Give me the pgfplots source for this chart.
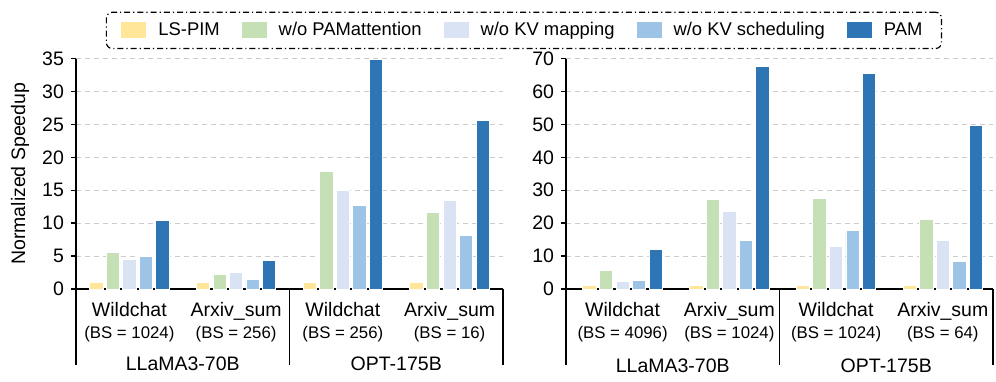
\documentclass[border=0pt]{standalone}
\usepackage{fontspec}
\setmainfont{Liberation Sans}
\usepackage{pgfplots}
\usepackage{pgfplotstable}
\pgfplotsset{compat=1.18}

\definecolor{cLS}{HTML}{FFE699}
\definecolor{cPA}{HTML}{C5E0B4}
\definecolor{cKM}{HTML}{DAE3F3}
\definecolor{cKS}{HTML}{9DC3E6}
\definecolor{cPAM}{HTML}{2E75B6}

% x = group, then one column per variant
\pgfplotstableread{
x ls wopa wokvm wokvs pam
0 1.0 5.5 4.57 4.93 10.4
1 1.0 2.29 2.54 1.42 4.37
2 1.0 17.88 15.03 12.65 34.8
3 1.0 11.58 13.5 8.18 25.55
}\leftdata
\pgfplotstableread{
x ls wopa wokvm wokvs pam
0 1.0 5.7 2.2 2.7 12.0
1 1.0 27.3 23.6 14.7 67.5
2 1.0 27.5 12.8 17.8 65.5
3 1.0 21.1 14.8 8.3 49.6
}\rightdata

\newcommand{\mainfs}{\fontsize{9.75}{11}\selectfont}
\newcommand{\bsfs}{\fontsize{8.4}{10}\selectfont}

\pgfplotsset{
  pambar/.style={ybar, bar width=0.125, draw=white, line width=0.4pt,
    legend image code/.code={\fill[##1, solid, sharp corners, draw=none] (0pt,-4pt) rectangle (12.5pt,4pt);}},
  panel/.style={
    scale only axis, width=213.5pt, height=115.25pt,
    ymin=0,
    axis x line*=bottom, axis y line*=left,
    axis line style={line width=0.7pt},
    xtick=\empty,
    tick align=outside, major tick length=2.5pt,
    ytick style={line width=0.7pt, black},
    ymajorgrids, grid style={dash pattern=on 2.5pt off 2pt, gray!40, line width=0.5pt},
    yticklabel style={font=\mainfs},
    /pgf/number format/assume math mode=true,
    clip=false,
  },
}

\newcommand{\bench}[3]{%
  \node[anchor=base, font=\mainfs] at ([yshift=-13.75pt]axis cs:#1,0) {#2};
  \node[anchor=base, font=\bsfs] at ([yshift=-24.5pt]axis cs:#1,0) {#3};}
\newcommand{\sep}[1]{\draw[line width=0.7pt] (axis cs:#1,0) -- ([yshift=-38pt]axis cs:#1,0);}

\begin{document}
\begin{tikzpicture}
\useasboundingbox (0,0) rectangle (498pt,190.5pt);

\begin{axis}[panel, at={(38pt,46pt)}, anchor=south west,
  xmin=-0.5, xmax=3.5, ymax=35, ytick={0,5,...,35},
  ylabel={Normalized Speedup},
  ylabel style={font=\mainfs, at={(axis description cs:-0.131,0.5)}, anchor=center},
  legend columns=5,
  legend style={at={(1.049,1.122)}, anchor=center, draw=black, line width=0.6pt,
    dash pattern=on 3pt off 1.5pt on 0.6pt off 1.5pt, rounded corners=3pt,
    inner xsep=7.5pt, inner ysep=3pt, font=\fontsize{9.2}{11}\selectfont,
    /tikz/every odd column/.append style={column sep=4pt},
    /tikz/every even column/.append style={column sep=9pt}},
]
\addplot[pambar, fill=cLS, bar shift=-0.31] table[x=x, y=ls] {\leftdata};
\addlegendentry{LS-PIM}
\addplot[pambar, fill=cPA, bar shift=-0.155] table[x=x, y=wopa] {\leftdata};
\addlegendentry{w/o PAMattention}
\addplot[pambar, fill=cKM, bar shift=0] table[x=x, y=wokvm] {\leftdata};
\addlegendentry{w/o KV mapping}
\addplot[pambar, fill=cKS, bar shift=0.155] table[x=x, y=wokvs] {\leftdata};
\addlegendentry{w/o KV scheduling}
\addplot[pambar, fill=cPAM, bar shift=0.31] table[x=x, y=pam] {\leftdata};
\addlegendentry{PAM}
\bench{0}{Wildchat}{(BS = 1024)}
\bench{1}{Arxiv\_sum}{(BS = 256)}
\bench{2}{Wildchat}{(BS = 256)}
\bench{3}{Arxiv\_sum}{(BS = 16)}
\sep{-0.5}\sep{1.5}\sep{3.5}
\node[anchor=base, font=\mainfs] at ([yshift=-40.85pt]axis cs:0.5,0) {LLaMA3-70B};
\node[anchor=base, font=\mainfs] at ([yshift=-40.85pt]axis cs:2.5,0) {OPT-175B};
\end{axis}

\begin{axis}[panel, at={(283pt,46pt)}, anchor=south west,
  xmin=-0.53, xmax=3.47, ymax=70, ytick={0,10,...,70},
]
\addplot[pambar, fill=cLS, bar shift=-0.31] table[x=x, y=ls] {\rightdata};
\addplot[pambar, fill=cPA, bar shift=-0.155] table[x=x, y=wopa] {\rightdata};
\addplot[pambar, fill=cKM, bar shift=0] table[x=x, y=wokvm] {\rightdata};
\addplot[pambar, fill=cKS, bar shift=0.155] table[x=x, y=wokvs] {\rightdata};
\addplot[pambar, fill=cPAM, bar shift=0.31] table[x=x, y=pam] {\rightdata};
\bench{0}{Wildchat}{(BS = 4096)}
\bench{1}{Arxiv\_sum}{(BS = 1024)}
\bench{2}{Wildchat}{(BS = 1024)}
\bench{3}{Arxiv\_sum}{(BS = 64)}
\sep{-0.53}\sep{1.47}\sep{3.47}
\node[anchor=base, font=\mainfs] at ([yshift=-41.7pt]axis cs:0.47,0) {LLaMA3-70B};
\node[anchor=base, font=\mainfs] at ([yshift=-41.7pt]axis cs:2.47,0) {OPT-175B};
\end{axis}
\end{tikzpicture}
\end{document}
